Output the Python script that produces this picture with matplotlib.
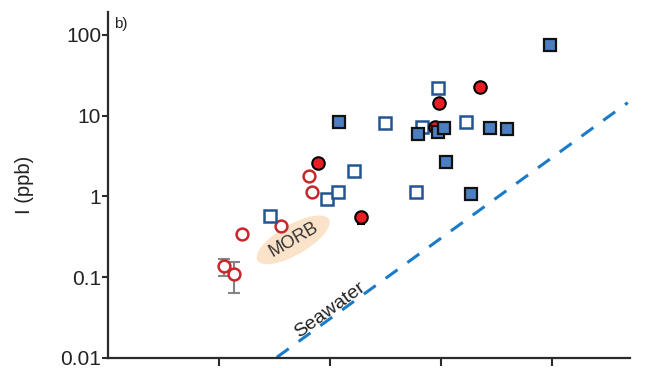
import matplotlib
matplotlib.use("Agg")
import matplotlib.pyplot as plt

plt.rcParams['font.family'] = ['Liberation Sans', 'DejaVu Sans']

# MORB (open red circles)
morb_x = [1.045, 1.135, 1.207, 1.559, 1.838, 1.811]
morb_y = [0.137, 0.109, 0.34, 0.43, 1.15, 1.77]
# error bars for first two MORB points
morb_err_x = [1.045, 1.135]
morb_err_y = [0.137, 0.109]
morb_err_lo = [0.034, 0.046]
morb_err_hi = [0.030, 0.044]

# filled red circles
red_x = [1.892, 2.279, 2.982, 3.351, 2.946]
red_y = [2.63, 0.55, 14.5, 22.8, 7.3]
red_err_lo = [0, 0.10, 0, 0, 0]
red_err_hi = [0, 0.08, 0, 0, 0]

# open blue squares
open_sq_x = [1.459, 1.973, 2.072, 2.216, 2.495, 2.775, 2.829, 2.973, 3.225]
open_sq_y = [0.58, 0.94, 1.12, 2.04, 8.2, 1.12, 7.3, 22.2, 8.4]

# filled blue squares
sq_x = [2.081, 2.793, 2.973, 3.027, 3.045, 3.270, 3.441, 3.595, 3.982]
sq_y = [8.4, 6.0, 6.2, 7.1, 2.7, 1.06, 7.1, 6.9, 75]

# seawater line
sea_x = [1.52, 4.68]
sea_y = [0.0102, 14.5]

fig = plt.figure(figsize=(6.7, 3.68), dpi=100)
ax = fig.add_axes([0.1612, 0.0272, 0.7791, 0.9402])

ax.plot(sea_x, sea_y, color='#1a7bc8', lw=2.2, linestyle=(0, (4.8, 4.0)), zorder=1)

ax.errorbar(morb_err_x, morb_err_y, yerr=[morb_err_lo, morb_err_hi], fmt='none',
            ecolor='#858585', elinewidth=1.5, capsize=4, capthick=1.5, zorder=2)
ax.plot(morb_x, morb_y, 'o', ms=8.5, mfc='white', mec='#c9262c', mew=1.8, zorder=3)
ax.plot(open_sq_x, open_sq_y, 's', ms=8.5, mfc='white', mec='#245591', mew=1.8, zorder=3)

ax.errorbar(red_x, red_y, yerr=[red_err_lo, red_err_hi], fmt='none',
            ecolor='black', elinewidth=1.5, capsize=3, capthick=1.5, zorder=4)
ax.plot(red_x, red_y, 'o', ms=9, mfc='#ec1c24', mec='black', mew=1.5, zorder=4)
ax.plot(sq_x, sq_y, 's', ms=9, mfc='#4b7fc2', mec='#111111', mew=1.6, zorder=5)

ax.set_yscale('log')
ax.set_ylim(0.01, 192)
ax.set_xlim(0, 4.7)
ax.set_yticks([0.01, 0.1, 1, 10, 100])
ax.set_yticklabels(['0.01', '0.1', '1', '10', '100'])
ax.minorticks_off()
ax.set_xticks([1, 2, 3, 4])
ax.set_xticklabels([])

for s in ['top', 'right']:
    ax.spines[s].set_visible(False)
for s in ['left', 'bottom']:
    ax.spines[s].set_linewidth(1.6)
    ax.spines[s].set_color('#2b2b2b')
ax.tick_params(axis='y', direction='out', length=4, width=1.5, color='#2b2b2b',
               labelsize=15, pad=1, labelcolor='#222222')
ax.tick_params(axis='x', direction='out', length=5.5, width=1.5, color='#2b2b2b')

ax.set_ylabel('I (ppb)', fontsize=14.5, color='#222222', labelpad=19)

ax.text(0.012, 0.985, 'b)', transform=ax.transAxes, fontsize=11, va='top', ha='left',
        color='#222222')

ax.text(1.667, 0.29, 'MORB', fontsize=13, rotation=30, ha='center', va='center',
        color='#333333', rotation_mode='anchor', zorder=2,
        bbox=dict(boxstyle='ellipse,pad=0.12', fc='#fbe3c9', ec='none'))

ax.text(2.0, 0.039, 'Seawater', fontsize=14, rotation=36, ha='center', va='center',
        color='#222222', rotation_mode='anchor')

fig.savefig('out.png', dpi=100)
